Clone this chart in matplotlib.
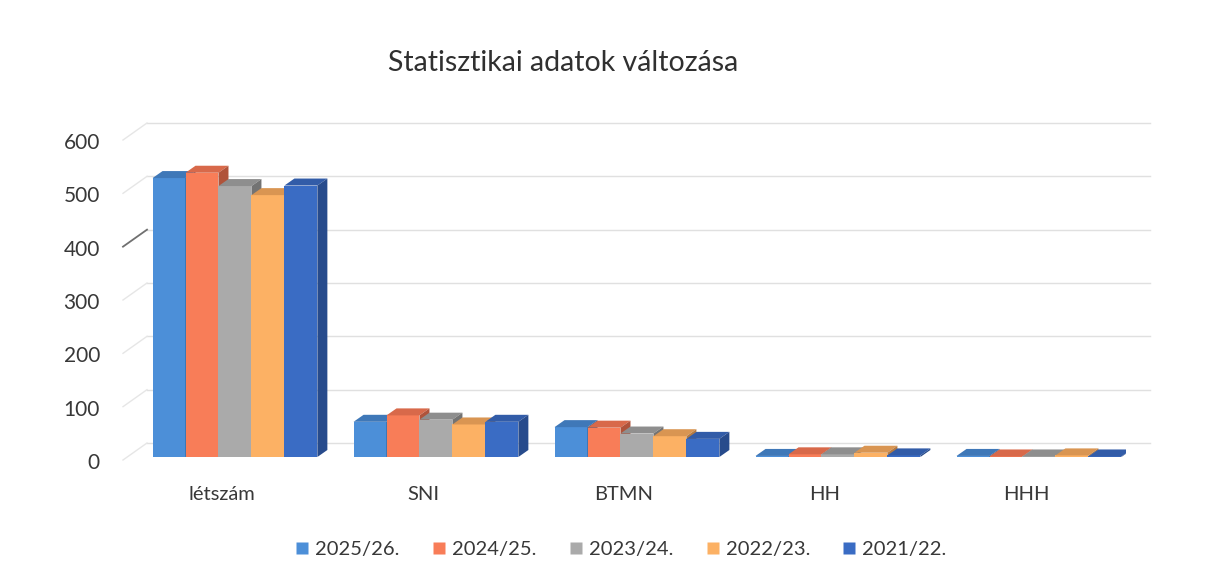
import matplotlib.pyplot as plt
from matplotlib.patches import Polygon, Rectangle
from matplotlib.lines import Line2D
import numpy as np

plt.rcParams['font.family'] = ['Lato', 'DejaVu Sans']

categories = ['létszám', 'SNI', 'BTMN', 'HH', 'HHH']
series = ['2025/26.', '2024/25.', '2023/24.', '2022/23.', '2021/22.']
values = {
    '2025/26.': [523, 66, 56, 2, 2],
    '2024/25.': [533, 78, 55, 5, 1],
    '2023/24.': [508, 70, 44, 5, 1],
    '2022/23.': [491, 61, 39, 8, 3],
    '2021/22.': [509, 66, 34, 3, 1],
}
yticks = [0, 100, 200, 300, 400, 500, 600]

front = ['#4C8FD8', '#F87D58', '#AAAAAA', '#FCB164', '#3A6CC4']
top = ['#3F78B8', '#D8694A', '#8E8E8E', '#D99552', '#325CA8']
side = ['#2F5E92', '#B0533A', '#737373', '#B47A42', '#274B8C']

W, H = 1210, 584
fig = plt.figure(figsize=(W / 100, H / 100), dpi=100)
# plot area: front floor from x=123 to 1126 px, y=0 at 460 px, 600 at 140 px
ax = fig.add_axes([123 / W, (H - 460) / H, 1003 / W, 320 / H])
ax.set_xlim(-0.557, 4.433)
ax.set_ylim(0, 600)
ax.axis('off')

# pixel -> data scales
px_x = 1003 / (4.433 + 0.557)
px_y = 320 / 600.0

# back wall gridlines (offset back/up) and the small diagonals to the axis
wall_dx, wall_dy = 24 / px_x, 17 / px_y
x0, x1 = ax.get_xlim()
for v in yticks:
    ax.plot([x0 + wall_dx, x1 + wall_dx], [v + wall_dy, v + wall_dy],
            color='#e0e0e0', lw=1.0, clip_on=False, zorder=0)
    c = '#707070' if v == 400 else '#e6e6e6'
    ax.plot([x0, x0 + wall_dx], [v, v + wall_dy], color=c,
            lw=1.3 if v == 400 else 1.0, clip_on=False, zorder=0)
    ax.text(x0 - 23 / px_x, v - 3 / px_y, str(v), ha='right', va='center',
            fontsize=15, color='#383838')

# pseudo 3D clustered columns
nser = len(series)
bw = 0.164
bar_dx, bar_dy = 10 / px_x, 7 / px_y
base = 3 / px_y
for ci, cat in enumerate(categories):
    for si, s in enumerate(series):
        h = values[s][ci]
        xl = ci - nser * bw / 2 + si * bw
        xr = xl + bw
        ax.add_patch(Rectangle((xl, base), bw, h, facecolor=front[si],
                               edgecolor='none', zorder=2 + ci * 10 + si))
        ax.add_patch(Polygon([(xl, base + h), (xr, base + h),
                              (xr + bar_dx, base + h + bar_dy),
                              (xl + bar_dx, base + h + bar_dy)],
                             closed=True, facecolor=top[si], edgecolor='none',
                             zorder=2 + ci * 10 + si))
        ax.add_patch(Polygon([(xr, base), (xr + bar_dx, base + bar_dy),
                              (xr + bar_dx, base + h + bar_dy), (xr, base + h)],
                             closed=True, facecolor=side[si], edgecolor='none',
                             zorder=2 + ci * 10 + si))
    ax.text(ci - 13 / px_x, -35 / px_y, cat, ha='center', va='center',
            fontsize=14.5, color='#383838')

fig.text(563 / W, 1 - 63 / H, 'Statisztikai adatok változása',
         ha='center', va='center', fontsize=20.5, color='#303030')

handles = [Line2D([], [], marker='s', ls='none', markersize=8,
                  markerfacecolor=front[i], markeredgecolor='none')
           for i in range(nser)]
fig.legend(handles, series, loc='center', ncol=nser,
           bbox_to_anchor=(621 / W, 1 - 549 / H), frameon=False,
           fontsize=14.5, handlelength=0.7, handletextpad=0.3,
           columnspacing=1.6, labelcolor='#383838')

fig.savefig('out.png', dpi=100, facecolor='white')
